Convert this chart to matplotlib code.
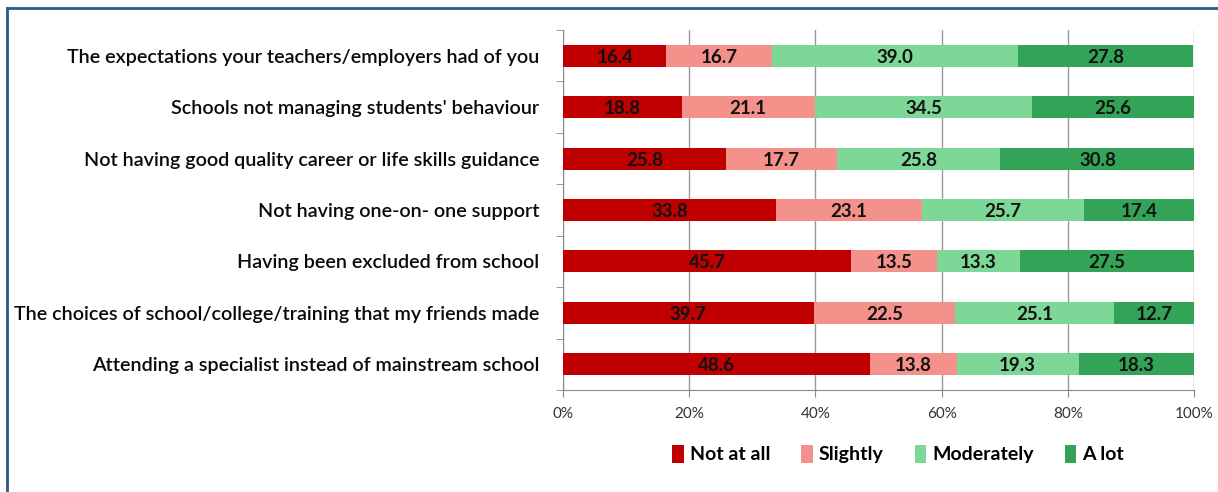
import matplotlib.pyplot as plt
import numpy as np
from matplotlib.lines import Line2D

categories = [
    "The expectations your teachers/employers had of you",
    "Schools not managing students' behaviour",
    "Not having good quality career or life skills guidance",
    "Not having one-on- one support",
    "Having been excluded from school",
    "The choices of school/college/training that my friends made",
    "Attending a specialist instead of mainstream school",
]
not_at_all = [16.4, 18.8, 25.8, 33.8, 45.7, 39.7, 48.6]
slightly = [16.7, 21.1, 17.7, 23.1, 13.5, 22.5, 13.8]
moderately = [39.0, 34.5, 25.8, 25.7, 13.3, 25.1, 19.3]
a_lot = [27.8, 25.6, 30.8, 17.4, 27.5, 12.7, 18.3]

series = ["Not at all", "Slightly", "Moderately", "A lot"]
colors = ["#C00000", "#F4918A", "#7DD897", "#33A457"]

plt.rcParams["font.family"] = ["Lato", "DejaVu Sans"]

fig = plt.figure(figsize=(12.18, 4.92), dpi=100)
ax = fig.add_axes([563 / 1218, 102 / 492, 631 / 1218, 360 / 492])

y = np.arange(len(categories))
left = np.zeros(len(categories))
data = [not_at_all, slightly, moderately, a_lot]
for vals, name, col in zip(data, series, colors):
    vals = np.array(vals)
    bars = ax.barh(y, vals, left=left, height=0.43, color=col, label=name, zorder=3)
    for b, v in zip(bars, vals):
        ax.text(b.get_x() + b.get_width() / 2, b.get_y() + b.get_height() / 2 + 0.03,
                f"{v:.1f}", ha="center", va="center", fontsize=13.5,
                fontweight="bold", color="#111111", zorder=4)
    left += vals

ax.set_xlim(0, 100)
ax.set_ylim(len(categories) - 0.5, -0.5)
ax.set_xticks(np.arange(0, 101, 20))
ax.set_xticklabels([f"{t}%" for t in range(0, 101, 20)], fontsize=11, color="#333333")
ax.set_yticks(y)
ax.set_yticklabels(categories, fontsize=14.2, color="#0A0A0A", fontweight="semibold")
ax.tick_params(axis="y", length=0, pad=17)
ax.set_yticks(np.arange(-0.5, len(categories), 1), minor=True)
ax.tick_params(axis="y", which="minor", length=5, color="#888888")
ax.tick_params(axis="x", length=5, color="#888888", pad=7)
ax.grid(axis="x", color="#999999", linewidth=1, zorder=0)
for s in ["top", "right"]:
    ax.spines[s].set_visible(False)
for s in ["left", "bottom"]:
    ax.spines[s].set_color("#888888")

fig.legend(loc="center", bbox_to_anchor=(898 / 1218, 1 - 454 / 492), ncol=4,
           frameon=False, handlelength=0.6, handleheight=1.1,
           handletextpad=0.3, columnspacing=1.6,
           prop={"family": ["Lato", "DejaVu Sans"], "weight": "bold", "size": 14})

# outer frame (top and left edges)
fig.add_artist(Line2D([7 / 1218, 1], [1 - 8 / 492, 1 - 8 / 492], color="#2B5A8A", lw=2))
fig.add_artist(Line2D([7 / 1218, 7 / 1218], [0, 1 - 8 / 492], color="#2B5A8A", lw=2))

fig.savefig("out.png", dpi=100)
